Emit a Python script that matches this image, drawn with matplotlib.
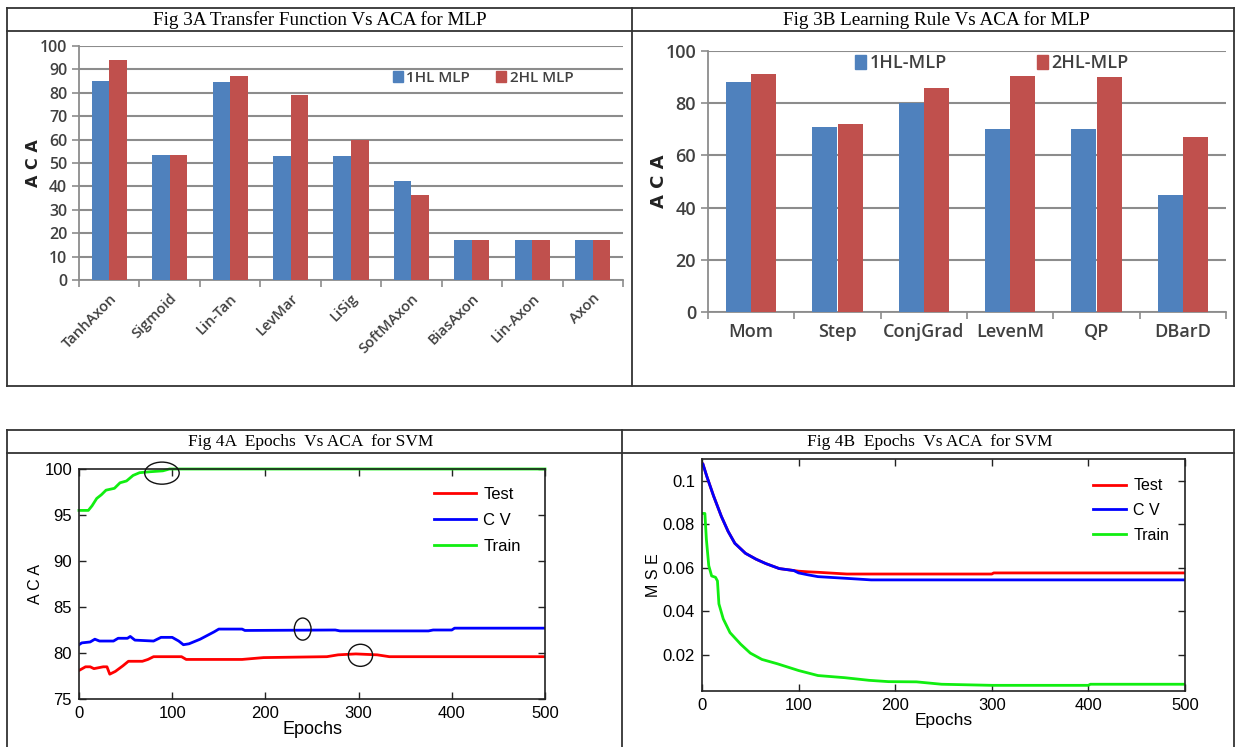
import matplotlib
matplotlib.use("Agg")
import matplotlib.pyplot as plt
import numpy as np
from matplotlib.lines import Line2D
from matplotlib.patches import Patch, Ellipse

# ---------------- data ----------------
tf_categories = ["TanhAxon", "Sigmoid", "Lin-Tan", "LevMar", "LiSig", "SoftMAxon",
                 "BiasAxon", "Lin-Axon", "Axon"]
tf_1hl = [85, 53.5, 84.5, 53, 53, 42.5, 17, 17, 17]
tf_2hl = [94, 53.5, 87, 79, 60, 36.5, 17, 17, 17]

lr_categories = ["Mom", "Step", "ConjGrad", "LevenM", "QP", "DBarD"]
lr_1hl = [88, 71, 80, 70, 70, 45]
lr_2hl = [91, 72, 86, 90.5, 90, 67]

aca_test_ep = [0, 7, 12, 16, 21, 26, 30, 33, 39, 47, 53, 68, 74, 80, 110, 115, 175, 198,
               266, 278, 297, 320, 333, 500]
aca_test = [78.1, 78.5, 78.5, 78.3, 78.4, 78.5, 78.5, 77.7, 78.0, 78.6, 79.1, 79.1, 79.3,
            79.6, 79.6, 79.3, 79.3, 79.5, 79.6, 79.8, 79.9, 79.8, 79.6, 79.6]
aca_cv_ep = [0, 3, 12, 17, 22, 37, 42, 52, 55, 60, 80, 88, 100, 107, 112, 118, 130, 145,
             150, 175, 178, 275, 280, 375, 380, 400, 403, 500]
aca_cv = [80.9, 81.1, 81.2, 81.5, 81.3, 81.3, 81.6, 81.6, 81.8, 81.4, 81.3, 81.7, 81.7,
          81.3, 80.9, 81.0, 81.5, 82.3, 82.6, 82.6, 82.45, 82.5, 82.4, 82.4, 82.5, 82.5,
          82.7, 82.7]
aca_train_ep = [0, 10, 14, 19, 24, 29, 38, 44, 51, 58, 65, 76, 90, 97, 500]
aca_train = [95.5, 95.5, 96.0, 96.8, 97.2, 97.7, 97.9, 98.5, 98.7, 99.3, 99.6, 99.7,
             99.8, 100.0, 100.0]

mse_tc_ep = [1, 5, 12, 20, 27, 34, 45, 56, 66, 80, 95]
mse_tc = [0.1076, 0.102, 0.093, 0.0837, 0.0768, 0.0713, 0.0667, 0.064, 0.062, 0.0597, 0.0588]
mse_test_ep = [100, 110, 120, 150, 300, 302, 500]
mse_test = [0.0585, 0.0582, 0.058, 0.0572, 0.0572, 0.0577, 0.0577]
mse_cv_ep = [100, 110, 120, 150, 175, 500]
mse_cv = [0.0577, 0.0568, 0.056, 0.0552, 0.0545, 0.0545]
mse_train_ep = [0, 3, 4.5, 7, 10, 14, 16, 17.5, 22, 29, 40, 50, 62, 78, 100, 120, 148,
                173, 193, 222, 248, 300, 400, 402, 500]
mse_train = [0.085, 0.085, 0.0733, 0.061, 0.0563, 0.0557, 0.054, 0.0435, 0.0366, 0.0303,
             0.025, 0.0209, 0.018, 0.016, 0.0129, 0.0106, 0.0096, 0.0084, 0.0078, 0.0077,
             0.0066, 0.0061, 0.0061, 0.0066, 0.0066]

# ---------------- figure ----------------
W, H = 1235, 747
fig = plt.figure(figsize=(W / 100, H / 100), dpi=100)
fig.patch.set_facecolor("white")


def rect(x0, y0, x1, y1):
    return [x0 / W, 1 - y1 / H, (x1 - x0) / W, (y1 - y0) / H]


def fline(x0, y0, x1, y1, lw=1.3, color="#333333"):
    fig.add_artist(Line2D([x0 / W, x1 / W], [1 - y0 / H, 1 - y1 / H],
                          transform=fig.transFigure, color=color, lw=lw))


# table frames
for (x0, y0, x1, y1) in [(7, 8, 1234, 8), (7, 31, 1234, 31), (7, 386, 1234, 386),
                         (7, 430, 1234, 430), (7, 453, 1234, 453)]:
    fline(x0, y0, x1, y1)
fline(7, 8, 7, 386)
fline(632, 8, 632, 386)
fline(1234, 8, 1234, 386)
fline(7, 430, 7, 747)
fline(622, 430, 622, 747)
fline(1234, 430, 1234, 747)

serif = "Liberation Serif"
fig.text(320 / W, 1 - 20 / H, "Fig 3A Transfer Function Vs ACA for MLP", family=serif,
         fontsize=13.8, ha="center", va="center")
fig.text(936 / W, 1 - 20 / H, "Fig 3B Learning Rule Vs ACA for MLP", family=serif,
         fontsize=13.8, ha="center", va="center")
fig.text(311 / W, 1 - 442 / H, "Fig 4A  Epochs  Vs ACA  for SVM", family=serif,
         fontsize=12.5, ha="center", va="center")
fig.text(930 / W, 1 - 442 / H, "Fig 4B  Epochs  Vs ACA  for SVM", family=serif,
         fontsize=12.5, ha="center", va="center")

BLUE = "#4F81BD"
RED = "#C0504D"
GRID = "#8C8C8C"
TXT = "#404040"
xlfont = "Open Sans"


def excel_bar(ax, cats, s1, s2, ylim, yticks, width, tickfs, xfs, rot):
    n = len(cats)
    x = np.arange(n)
    ax.bar(x - width / 2, s1, width, color=BLUE, zorder=3)
    ax.bar(x + width / 2, s2, width, color=RED, zorder=3)
    ax.set_xlim(-0.5, n - 0.5)
    ax.set_ylim(*ylim)
    ax.set_yticks(yticks)
    ax.set_xticks(np.arange(n + 1) - 0.5)
    ax.set_xticklabels([])
    ax.set_xticks(x, minor=True)
    if rot:
        ax.set_xticklabels(cats, minor=True, rotation=45, ha="right", rotation_mode="anchor",
                           fontsize=xfs, color=TXT, family=xlfont, fontweight="semibold")
    else:
        ax.set_xticklabels(cats, minor=True, fontsize=xfs, color=TXT, family=xlfont,
                           fontweight="semibold")
    ax.tick_params(axis="x", which="minor", length=0, pad=8)
    ax.tick_params(axis="x", which="major", length=5, color=GRID, width=1.2)
    ax.tick_params(axis="y", length=5, color=GRID, width=1.2, labelsize=tickfs,
                   labelcolor=TXT)
    for lab in ax.get_yticklabels():
        lab.set_family(xlfont)
        lab.set_fontweight("semibold")
    ax.yaxis.grid(True, color=GRID, lw=1.5, zorder=0)
    for s in ["top", "right"]:
        ax.spines[s].set_visible(False)
    for s in ["left", "bottom"]:
        ax.spines[s].set_color(GRID)
        ax.spines[s].set_linewidth(1.3)
    ax.set_axisbelow(True)


# ---- Fig 3A ----
ax1 = fig.add_axes(rect(79, 46, 623, 280))
excel_bar(ax1, tf_categories, tf_1hl, tf_2hl, (0, 100), np.arange(0, 101, 10), 0.29,
          11.5, 10.5, True)
ax1.set_ylabel("A C A", fontsize=11.5, fontweight="bold", color="#222222", labelpad=-1)
ax1.legend([Patch(color=BLUE), Patch(color=RED)], ["1HL MLP", "2HL MLP"], ncol=2,
           frameon=False, loc="center left", bbox_to_anchor=(379 / W, 1 - 78 / H),
           bbox_transform=fig.transFigure, handlelength=0.65, handleheight=0.7,
           handletextpad=0.25, columnspacing=1.7,
           prop={"family": xlfont, "weight": "semibold", "size": 11})
for t in ax1.get_legend().get_texts():
    t.set_color(TXT)

# ---- Fig 3B ----
ax2 = fig.add_axes(rect(708, 51, 1226, 312))
excel_bar(ax2, lr_categories, lr_1hl, lr_2hl, (0, 100), np.arange(0, 101, 20), 0.29,
          13, 13, False)
ax2.set_ylabel("A C A", fontsize=13, fontweight="bold", color="#222222", labelpad=-2)
ax2.legend([Patch(color=BLUE), Patch(color=RED)], ["1HL-MLP", "2HL-MLP"], ncol=2,
           frameon=False, loc="center left", bbox_to_anchor=(839 / W, 1 - 63 / H),
           bbox_transform=fig.transFigure, handlelength=0.6, handleheight=0.85,
           handletextpad=0.2, columnspacing=5.0,
           prop={"family": xlfont, "weight": "semibold", "size": 13})
for t in ax2.get_legend().get_texts():
    t.set_color(TXT)

# ---- MATLAB style line charts ----
sans = "Liberation Sans"
GREEN = "#11EE11"


def matlab_axes(ax):
    ax.tick_params(direction="in", top=True, right=True, length=5, width=1.0,
                   labelsize=12, color="#222222", pad=5)
    for lab in ax.get_xticklabels() + ax.get_yticklabels():
        lab.set_family(sans)
    for s in ax.spines.values():
        s.set_color("#222222")
        s.set_linewidth(1.2)


ax3 = fig.add_axes(rect(79, 469, 545, 699))
ax3.plot(aca_test_ep, aca_test, color="#FF0000", lw=2.0, label="Test")
ax3.plot(aca_cv_ep, aca_cv, color="#0000FF", lw=2.0, label="C V")
ax3.plot(aca_train_ep, aca_train, color=GREEN, lw=2.0, label="Train", clip_on=False)
ax3.set_xlim(0, 500)
ax3.set_ylim(75, 100)
ax3.set_xticks(np.arange(0, 501, 100))
ax3.set_yticks(np.arange(75, 101, 5))
matlab_axes(ax3)
ax3.set_xlabel("Epochs", family=sans, fontsize=13, labelpad=0)
ax3.set_ylabel("A C A", family=sans, fontsize=11.5, labelpad=1)
for (cx, cy, w, h) in [(89, 99.55, 37, 2.4), (240, 82.6, 18, 2.4), (302, 79.75, 26, 2.4)]:
    ax3.add_patch(Ellipse((cx, cy), w, h, fill=False, ec="#111111", lw=1.0, zorder=5,
                          clip_on=False))
ax3.legend(loc="upper left", bbox_to_anchor=(419 / W, 1 - 472 / H),
           bbox_transform=fig.transFigure, frameon=False, handlelength=2.5,
           handletextpad=0.45, labelspacing=0.65, prop={"family": sans, "size": 12})

ax4 = fig.add_axes(rect(702, 459, 1185, 691))
ax4.plot(mse_tc_ep + mse_test_ep, mse_tc + mse_test, color="#FF0000", lw=2.0, label="Test")
ax4.plot(mse_tc_ep + mse_cv_ep, mse_tc + mse_cv, color="#0000FF", lw=2.0, label="C V")
ax4.plot(mse_train_ep, mse_train, color=GREEN, lw=2.0, label="Train")
ax4.set_xlim(0, 500)
ax4.set_ylim(0.0035, 0.11)
ax4.set_xticks(np.arange(0, 501, 100))
ax4.set_yticks([0.02, 0.04, 0.06, 0.08, 0.1])
ax4.set_yticklabels(["0.02", "0.04", "0.06", "0.08", "0.1"])
matlab_axes(ax4)
ax4.set_xlabel("Epochs", family=sans, fontsize=12.5, labelpad=0)
ax4.set_ylabel("M S E", family=sans, fontsize=11.5, labelpad=1)
ax4.legend(loc="upper left", bbox_to_anchor=(1079 / W, 1 - 464 / H),
           bbox_transform=fig.transFigure, frameon=False, handlelength=2.05,
           handletextpad=0.45, labelspacing=0.6, prop={"family": sans, "size": 11.5})

fig.savefig("out.png", dpi=100)
